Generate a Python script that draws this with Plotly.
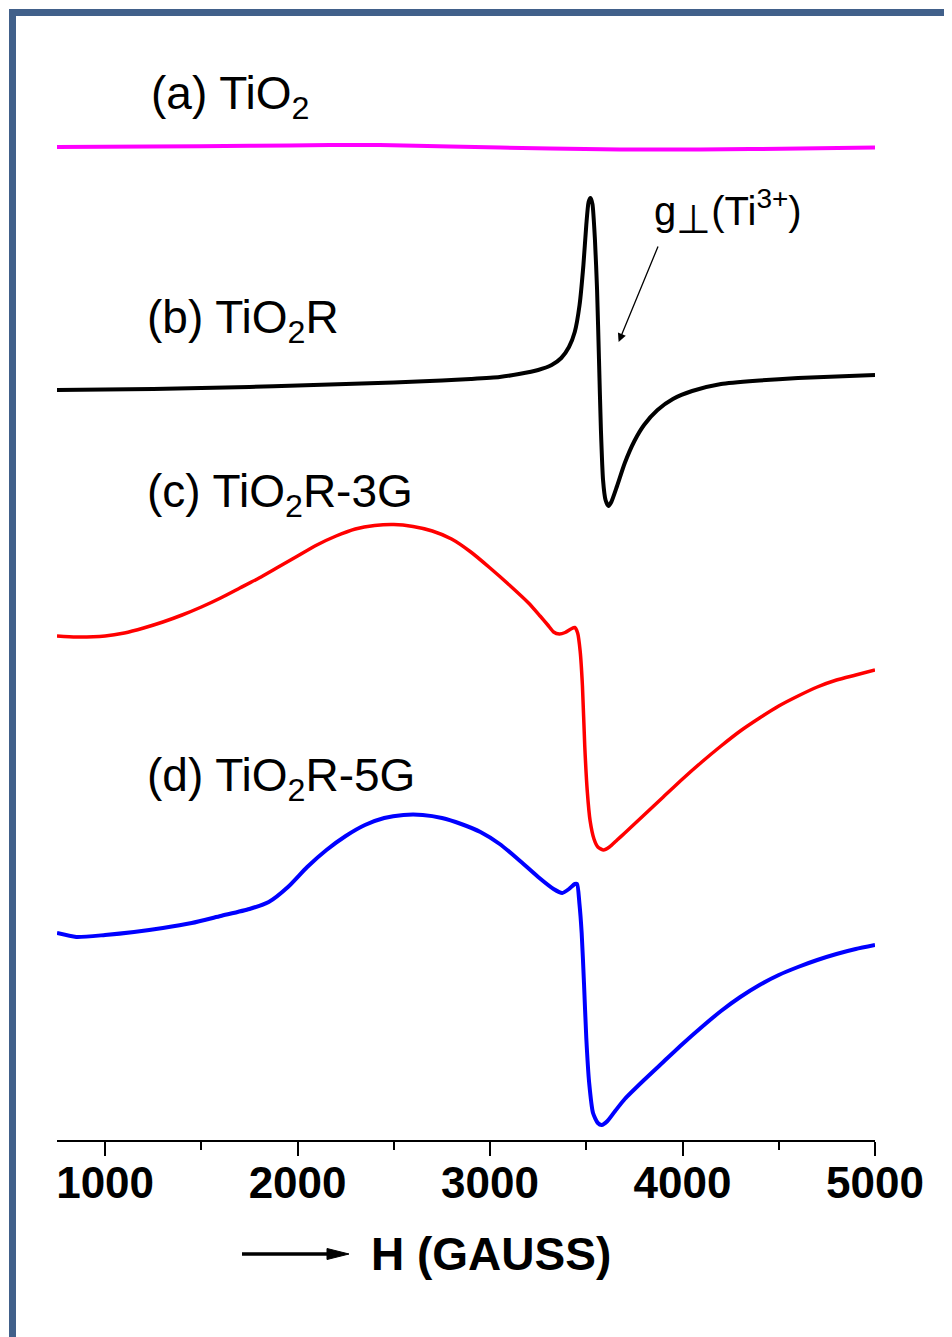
import plotly.graph_objects as go

# ---------------- data (field in gauss, signal in a.u.) ----------------
field_a = [750, 1233, 1753, 2168, 2428, 2792, 3312, 3675, 4091, 4611, 5000]
sig_a = [0, 0.05, 0.12, 0.2, 0.2, 0.05, -0.15, -0.25, -0.25, -0.15, -0.05]

field_b = [750, 1000, 1250, 1500, 1750, 2000, 2250, 2500, 2750, 2900, 3050, 3150,
           3250, 3320, 3370, 3410, 3440, 3465, 3485, 3500, 3512, 3522, 3532, 3545,
           3556, 3566, 3576, 3587, 3600, 3615, 3630, 3660, 3700, 3750, 3800, 3870,
           3950, 4050, 4200, 4400, 4600, 4800, 5000]
sig_b = [0, 0.05, 0.1, 0.2, 0.3, 0.45, 0.6, 0.75, 0.95, 1.1, 1.3, 1.6,
         2.0, 2.5, 3.2, 4.3, 5.8, 8.5, 12.5, 16.5, 18.8, 19.2, 18.6, 15.0,
         10.0, 3.0, -4.0, -9.0, -11.0, -11.6, -11.2, -9.6, -7.3, -5.1, -3.5, -2.0,
         -0.9, -0.1, 0.6, 0.95, 1.2, 1.35, 1.5]

field_c = [750, 850, 1000, 1100, 1200, 1300, 1400, 1500, 1600, 1700, 1800, 1900,
           2000, 2100, 2200, 2300, 2400, 2500, 2600, 2700, 2800, 2900, 3000, 3100,
           3200, 3260, 3300, 3330, 3360, 3390, 3420, 3440, 3455, 3468, 3480, 3492,
           3505, 3520, 3540, 3560, 3590, 3620, 3660, 3700, 3800, 3900, 4000, 4100,
           4200, 4300, 4400, 4500, 4600, 4700, 4800, 4900, 5000]
sig_c = [0, -0.1, 0.0, 0.3, 0.8, 1.4, 2.1, 2.9, 3.8, 4.8, 5.8, 6.9,
         8.0, 9.1, 10.0, 10.7, 11.05, 11.15, 10.95, 10.5, 9.7, 8.4, 6.8, 5.1,
         3.3, 2.0, 1.1, 0.4, 0.2, 0.35, 0.7, 0.85, 0.3, -1.5, -5.0, -11.0,
         -15.5, -18.5, -20.3, -21.1, -21.4, -21.1, -20.4, -19.7, -17.9, -16.1, -14.3, -12.6,
         -11.0, -9.5, -8.2, -7.0, -6.0, -5.1, -4.4, -3.9, -3.4]

field_d = [750, 850, 1000, 1150, 1300, 1450, 1600, 1750, 1850, 1950, 2050, 2150,
           2250, 2350, 2450, 2550, 2650, 2750, 2850, 2950, 3050, 3150, 3250, 3330,
           3375, 3410, 3440, 3452, 3464, 3476, 3488, 3500, 3515, 3535, 3560, 3580,
           3610, 3650, 3700, 3800, 3900, 4000, 4100, 4200, 4300, 4400, 4500, 4600,
           4700, 4800, 4900, 5000]
sig_d = [0, -0.4, -0.2, 0.1, 0.5, 1.0, 1.7, 2.4, 3.1, 4.6, 6.6, 8.3,
         9.7, 10.8, 11.5, 11.8, 11.8, 11.5, 10.9, 10.1, 8.9, 7.3, 5.6, 4.4,
         4.0, 4.4, 4.9, 4.9, 3.0, 0, -5.0, -10.5, -15.0, -18.0, -19.0, -19.2,
         -18.8, -17.8, -16.6, -14.7, -12.9, -11.1, -9.4, -7.8, -6.4, -5.2, -4.2, -3.4,
         -2.7, -2.1, -1.6, -1.2]

# vertical stacking offsets of the spectra (a.u.)
offsets = [99.3, 75.0, 50.4, 20.7]
labels = ["(a) TiO<sub>2</sub>", "(b) TiO<sub>2</sub>R",
          "(c) TiO<sub>2</sub>R-3G", "(d) TiO<sub>2</sub>R-5G"]
colors = ["#ff00ff", "#000000", "#ff0000", "#0000ff"]
label_x = [1229, 1209, 1209, 1209]
label_y = [104.4, 82.0, 64.6, 36.2]

x_ticks = [1000, 2000, 3000, 4000, 5000]
x_minor = [1500, 2500, 3500, 4500]

# ---------------- layout geometry ----------------
# page body has an 8px margin, so the figure is 8px smaller than the window
OFF = 8
W, H = 952 - OFF, 1337 - OFF
PL, PR, PT, PB = 57, 875, 20, 1140          # plot area in window pixels
ML, MR, MT, MB = PL - OFF, W - (PR - OFF), PT - OFF, H - (PB - OFF)
PW, PH = PR - PL, PB - PT


def px(xp):
    return (xp - PL) / PW


def py(yp):
    return (PB - yp) / PH


fig = go.Figure()
series = [(field_a, sig_a), (field_b, sig_b), (field_c, sig_c), (field_d, sig_d)]
widths = [4, 4, 3.5, 4]
for (fx, sy), off, col, w in zip(series, offsets, colors, widths):
    fig.add_trace(go.Scatter(
        x=fx, y=[v + off for v in sy], mode="lines",
        line=dict(color=col, width=w, shape="spline", smoothing=0.6),
        showlegend=False, hoverinfo="skip"))

font_fam = "Liberation Sans, Arial, sans-serif"
annotations = []
for t, lx, ly in zip(labels, label_x, label_y):
    annotations.append(dict(x=lx, y=ly, xref="x", yref="y", text=t, showarrow=False,
                            xanchor="left", yanchor="middle",
                            font=dict(family=font_fam, size=46, color="black")))

# g-perp annotation with arrow
annotations.append(dict(x=px(652), y=py(212), xref="paper", yref="paper",
                        text="g<sub><span style='font-size:40px'>⊥</span></sub>(Ti<sup>3+</sup>)",
                        showarrow=False, xanchor="left", yanchor="middle",
                        font=dict(family=font_fam, size=40, color="black")))
annotations.append(dict(x=3668, y=79.8, xref="x", yref="y", text="", showarrow=True,
                        ax=40, ay=-97, arrowhead=2, arrowsize=1.3, arrowwidth=1.3,
                        arrowcolor="black"))

# axis title
annotations.append(dict(x=px(369), y=py(1254), xref="paper", yref="paper",
                        text="<b>H (GAUSS)</b>", showarrow=False,
                        xanchor="left", yanchor="middle",
                        font=dict(family=font_fam, size=46, color="black")))

frame_col = "#41608a"
shapes = [
    # axis-title arrow
    dict(type="line", xref="paper", yref="paper", x0=px(242), x1=px(332),
         y0=py(1254), y1=py(1254), line=dict(color="black", width=3.5)),
    dict(type="path", xref="paper", yref="paper",
         path=f"M{px(327)},{py(1248.5)} L{px(349)},{py(1254)} L{px(327)},{py(1259.5)} Z",
         fillcolor="black", line=dict(color="black", width=1)),
    # frame (left and top borders)
    dict(type="rect", xref="paper", yref="paper", x0=px(9), x1=px(16),
         y0=py(1345), y1=py(9), fillcolor=frame_col, line=dict(width=0)),
    dict(type="rect", xref="paper", yref="paper", x0=px(9), x1=px(960),
         y0=py(16), y1=py(9), fillcolor=frame_col, line=dict(width=0)),
]

fig.update_layout(
    width=W, height=H, autosize=False,
    margin=dict(l=ML, r=MR, t=MT, b=MB, pad=0),
    paper_bgcolor="white", plot_bgcolor="white",
    showlegend=False,
    annotations=annotations, shapes=shapes,
    xaxis=dict(range=[750, 5000], tickvals=x_ticks, ticktext=[str(v) for v in x_ticks],
               showgrid=False, zeroline=False,
               showline=True, linecolor="black", linewidth=2,
               ticks="outside", ticklen=14, tickwidth=2, tickcolor="black",
               minor=dict(tickvals=x_minor, ticks="outside",
                          ticklen=8, tickwidth=2, tickcolor="black"),
               tickfont=dict(family=font_fam, size=44, color="black", weight="bold"),
               ticklabelstandoff=-11),
    yaxis=dict(range=[0, PH / 10], visible=False, showgrid=False, zeroline=False),
)

fig.write_html("out.html")
